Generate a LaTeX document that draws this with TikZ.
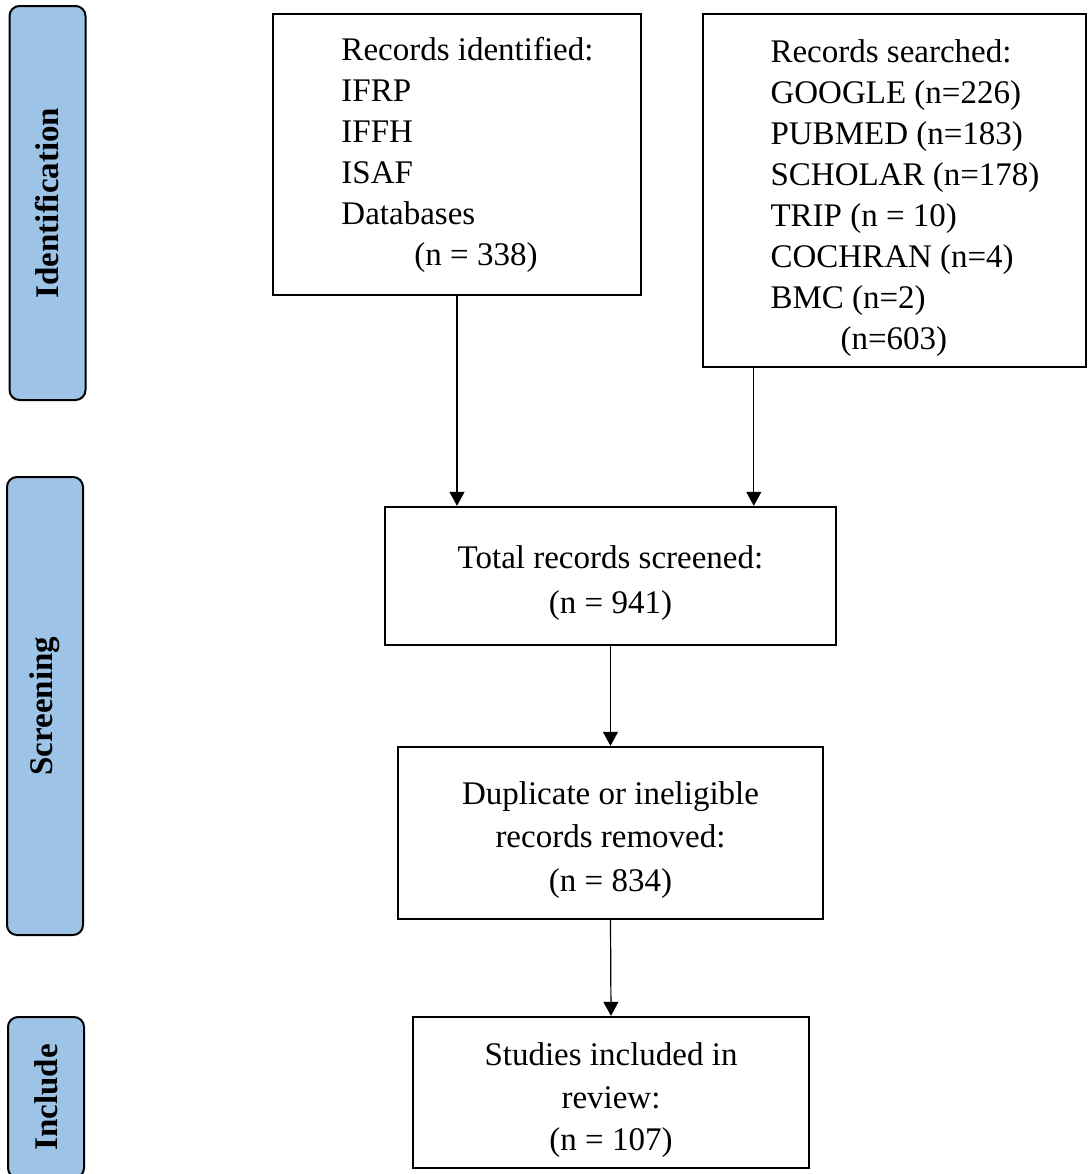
\documentclass[tikz,border=0pt]{standalone}
\usepackage{fontspec}
\setmainfont{Liberation Serif}
\usetikzlibrary{arrows.meta, calc}
\definecolor{phaseBlue}{RGB}{157,195,230}

\begin{document}
\begin{tikzpicture}[x=0.5pt, y=-0.5pt,
  phase/.style={draw, line width=1pt, fill=phaseBlue, rounded corners=5pt, rotate=90,
                font=\fontsize{16.5}{18}\selectfont\bfseries, minimum height=38pt, inner sep=0pt},
  srcbox/.style={draw, line width=1.2pt, font=\fontsize{16.5}{20.5}\selectfont, inner sep=0pt},
  stepbox/.style={draw, line width=1.2pt, align=center, font=\fontsize{16.5}{21.75}\selectfont, inner sep=0pt},
  arr/.style={-{Triangle[length=7pt, width=7.5pt]}, line width=0.6pt},
]
  \useasboundingbox (0,0) rectangle (1089,1174);
  \clip (0,0) rectangle (1089,1174);

  % phase bars
  \node[phase, minimum width=197pt] (idphase) at (47.5,203) {Identification};
  \node[phase, minimum width=229pt] (scphase) at (45,706) {Screening};
  \node[phase, minimum width=80.5pt] (inphase) at (46,1097.5) {Include};

  % sources
  \node[srcbox, minimum width=184pt, minimum height=140.5pt] (ident) at (457,154.5)
    {\hspace*{10.5pt}\begin{tabular}{@{}l@{}}
       Records identified:\\ IFRP\\ IFFH\\ ISAF\\ Databases\\ \hspace*{36.5pt}(n = 338)
     \end{tabular}};
  \node[srcbox, minimum width=191.5pt, minimum height=176.5pt] (search) at (894.5,190.5)
    {\hspace*{10.5pt}\begin{tabular}{@{}l@{}}
       \rule{0pt}{21.5pt}Records searched:\\ GOOGLE (n=226)\\ PUBMED (n=183)\\ SCHOLAR (n=178)\\
       TRIP (n = 10)\\ COCHRAN (n=4)\\ BMC (n=2)\\ \hspace*{35pt}(n=603)
     \end{tabular}};

  % flow
  \node[stepbox, minimum width=225.5pt, minimum height=69pt] (screen) at (610.5,576)
    {\rule{0pt}{18.5pt}Total records screened:\\[1pt] (n = 941)};
  \node[stepbox, minimum width=212.5pt, minimum height=86pt] (removed) at (610.5,833)
    {\rule{0pt}{18.5pt}Duplicate or ineligible\\ records removed:\\ (n = 834)};
  \node[stepbox, minimum width=198pt, minimum height=75.5pt] (incl) at (611,1092.5)
    {\rule{0pt}{18.5pt}Studies included in\\ review:\\[-1pt] (n = 107)};

  \coordinate (s2) at ($(search.south west)+(52,0)$);
  \draw[arr] (ident.south) -- (ident.south |- screen.north);
  \draw[arr] (s2) -- (s2 |- screen.north);
  \draw[arr] (screen.south) -- (removed.north);
  \draw[arr] (removed.south) -- (incl.north);
\end{tikzpicture}
\end{document}
